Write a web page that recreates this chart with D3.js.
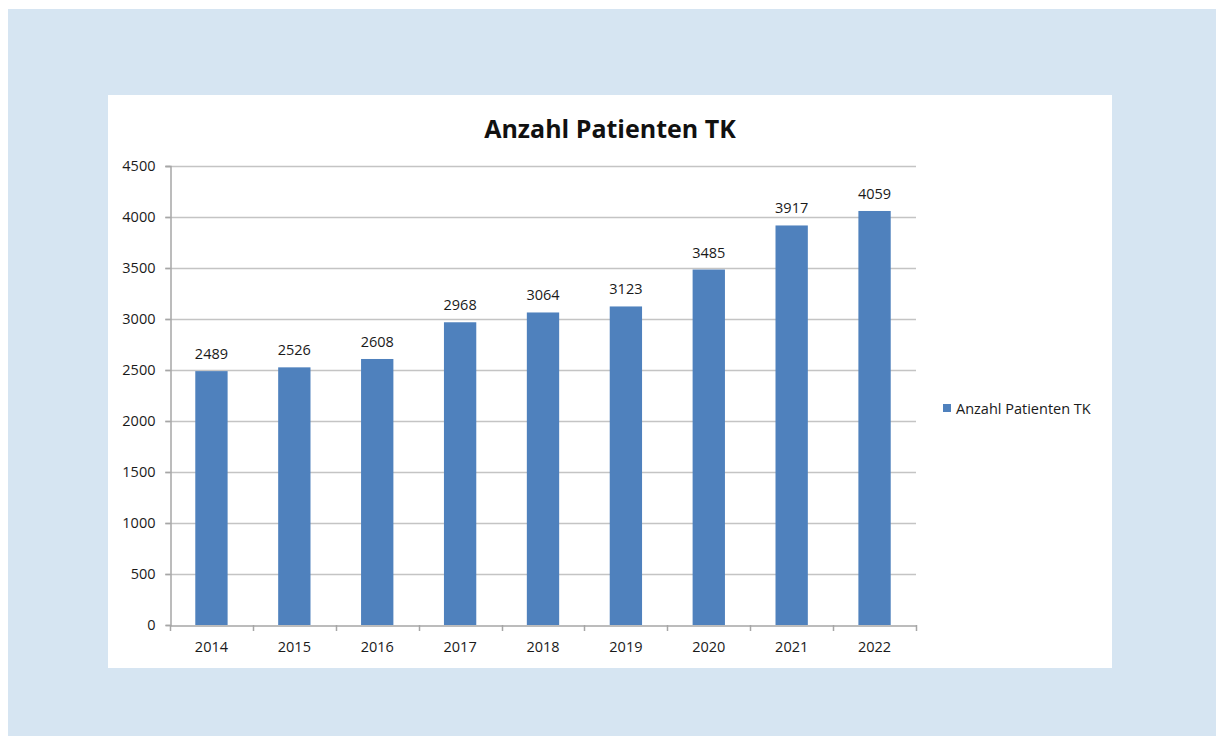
<!DOCTYPE html>
<html>
<head>
<meta charset="utf-8">
<script src="https://cdn.jsdelivr.net/npm/d3@7"></script>
<style>
  html, body { margin: 0; padding: 0; background: #ffffff; }
  svg { display: block; }
  text { font-family: "Open Sans", "Noto Sans", sans-serif; }
</style>
</head>
<body>
<svg id="chart" width="1216" height="736"></svg>
<script>
const title = "Anzahl Patienten TK";
const seriesName = "Anzahl Patienten TK";
const categories = ["2014", "2015", "2016", "2017", "2018", "2019", "2020", "2021", "2022"];
const values = [2489, 2526, 2608, 2968, 3064, 3123, 3485, 3917, 4059];
const yTicks = [0, 500, 1000, 1500, 2000, 2500, 3000, 3500, 4000, 4500];

const svg = d3.select("#chart");

// outer panel
svg.append("rect").attr("x", 8).attr("y", 9).attr("width", 1208).attr("height", 727).attr("fill", "#d6e5f2");
// chart box
svg.append("rect").attr("x", 108).attr("y", 95).attr("width", 1004).attr("height", 573).attr("fill", "#ffffff");

const plot = { left: 170, right: 916, top: 166, bottom: 625 };

const x = d3.scaleBand().domain(categories).range([plot.left, plot.right])
  .paddingInner(0.61).paddingOuter(0.305);
const xc = d3.scaleBand().domain(categories).range([plot.left, plot.right]).padding(0);
const y = d3.scaleLinear().domain([0, 4500]).range([plot.bottom, plot.top]);

// gridlines
svg.append("g").selectAll("line").data(yTicks.filter(d => d > 0)).join("line")
  .attr("x1", plot.left - 5).attr("x2", plot.right)
  .attr("y1", d => Math.round(y(d)) + 0.5).attr("y2", d => Math.round(y(d)) + 0.5)
  .attr("stroke", "#c4c4c4").attr("stroke-width", 1.5);

// y axis
const yAxis = svg.append("g").attr("transform", `translate(${plot.left + 0.5},0)`)
  .call(d3.axisLeft(y).tickValues(yTicks).tickSize(5).tickPadding(10).tickFormat(d3.format("d")));
yAxis.select(".domain").attr("stroke", "#a6a6a6").attr("stroke-width", 1.5);
yAxis.selectAll(".tick line").attr("stroke", "#a6a6a6").attr("stroke-width", 1.5);
yAxis.selectAll(".tick text").attr("fill", "#1a1a1a").style("font-size", "14.5px")
  .style("font-family", "'Open Sans', sans-serif");

// bars
svg.append("g").selectAll("rect").data(values).join("rect")
  .attr("x", (d, i) => x(categories[i]))
  .attr("width", x.bandwidth())
  .attr("y", d => y(d))
  .attr("height", d => y(0) - y(d))
  .attr("fill", "#4f81bd");

// x axis
const xAxis = svg.append("g").attr("transform", `translate(0,${plot.bottom + 0.5})`)
  .call(d3.axisBottom(xc).tickSize(0).tickPadding(16));
xAxis.select(".domain").attr("stroke", "#a6a6a6").attr("stroke-width", 1.5);
xAxis.selectAll(".tick text").attr("fill", "#1a1a1a").style("font-size", "14.5px")
  .style("font-family", "'Open Sans', sans-serif");
// category boundary ticks
const bounds = [plot.left].concat(categories.map(c => xc(c) + xc.bandwidth()));
svg.append("g").selectAll("line").data(bounds).join("line")
  .attr("x1", d => Math.round(d) + 0.5).attr("x2", d => Math.round(d) + 0.5)
  .attr("y1", plot.bottom).attr("y2", plot.bottom + 6)
  .attr("stroke", "#a6a6a6").attr("stroke-width", 1.5);

// value labels
svg.append("g").selectAll("text").data(values).join("text")
  .attr("x", (d, i) => x(categories[i]) + x.bandwidth() / 2)
  .attr("y", d => y(d) - 12)
  .attr("text-anchor", "middle")
  .attr("fill", "#1a1a1a")
  .style("font-size", "14.5px")
  .text(d => d);

// title
svg.append("text").attr("x", 610).attr("y", 138).attr("text-anchor", "middle")
  .attr("fill", "#111").style("font-size", "25px").style("font-weight", "bold")
  .text(title);

// legend
svg.append("rect").attr("x", 943).attr("y", 404).attr("width", 8).attr("height", 8).attr("fill", "#4f81bd");
svg.append("text").attr("x", 956).attr("y", 413.5).attr("fill", "#1a1a1a")
  .style("font-size", "14.5px").text(seriesName);
</script>
</body>
</html>
